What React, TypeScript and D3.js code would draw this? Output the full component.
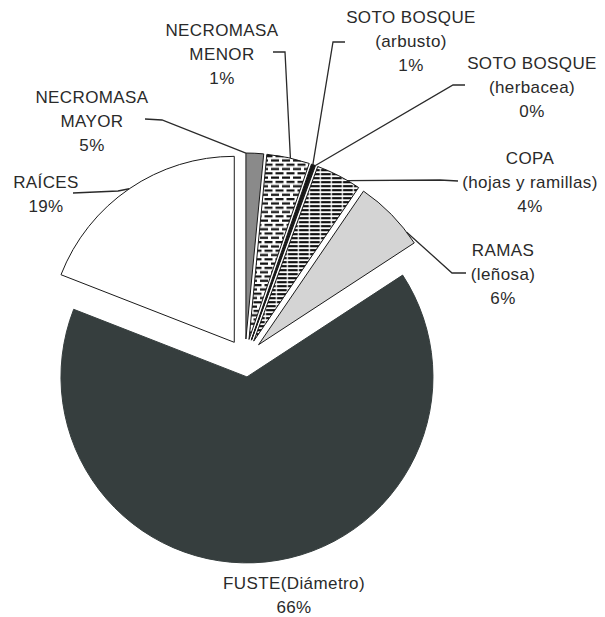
import React from "react";
import * as d3 from "d3";

// ---- data ----
const categories = [
  "NECROMASA MAYOR",
  "NECROMASA MENOR",
  "SOTO BOSQUE (arbusto)",
  "SOTO BOSQUE (herbacea)",
  "COPA (hojas y ramillas)",
  "RAMAS (leñosa)",
  "FUSTE(Diámetro)",
  "RAÍCES",
];
const values = [1.53, 3.72, 0.25, 0.1, 3.95, 6.25, 65.2, 19.1];
const pctLabels = ["5%", "1%", "1%", "0%", "4%", "6%", "66%", "19%"];
const labelLines = [
  ["NECROMASA", "MAYOR"],
  ["NECROMASA", "MENOR"],
  ["SOTO BOSQUE", "(arbusto)"],
  ["SOTO BOSQUE", "(herbacea)"],
  ["COPA", "(hojas y ramillas)"],
  ["RAMAS", "(leñosa)"],
  ["FUSTE(Diámetro)"],
  ["RAÍCES"],
];

// ---- layout / style ----
const W = 605;
const H = 617;
const CX = 245;
const CY = 358;
const R = 186;
const EXPLODE = 19;
const FONT = 17;
const LINE_H = 24;

const fills = [
  "#8a8a8a",
  "url(#dashPat)",
  "#151515",
  "#151515",
  "url(#hlinePat)",
  "#d4d4d4",
  "#363e3e",
  "#ffffff",
];

// label layout: x center, first baseline, leader points (near text), fraction along slice for end
const labelLayout = [
  { x: 92, y: 103, leader: [[145, 119], [162, 120]], frac: 0 },
  { x: 222, y: 36, leader: [[273, 52], [285, 52]], frac: 0.55 },
  { x: 411, y: 23, leader: [[345, 42], [333, 42]], frac: 0.5 },
  { x: 532, y: 69, leader: [[465, 85], [453, 85]], frac: 0.9 },
  { x: 530, y: 164, leader: [[458, 181], [440, 180]], frac: 0.72 },
  { x: 503, y: 256, leader: [[466, 273], [452, 273]], frac: 0.82 },
  { x: 294, y: 589, leader: null, frac: 0.5 },
  { x: 46, y: 188, leader: [[73, 193], [118, 191]], frac: 0.5 },
];

export default function App() {
  const pie = d3
    .pie<number>()
    .sort(null)
    .value((d) => d)
    .startAngle(0)
    .endAngle(2 * Math.PI);
  const arcs = pie(values);
  const arcGen = d3.arc<d3.PieArcDatum<number>>().innerRadius(0).outerRadius(R);

  const offset = (a: d3.PieArcDatum<number>) => {
    const mid = (a.startAngle + a.endAngle) / 2;
    return [Math.sin(mid) * EXPLODE, -Math.cos(mid) * EXPLODE];
  };

  const line = d3.line();

  return (
    <svg
      width={W}
      height={H}
      style={{ position: "absolute", left: 0, top: 0, background: "#fff" }}
      fontFamily="'Liberation Sans', Arial, sans-serif"
    >
      <defs>
        <pattern id="dashPat" patternUnits="userSpaceOnUse" width={11} height={8.6}>
          <rect width={11} height={8.6} fill="#fff" />
          <rect x={0} y={0.5} width={8} height={2.2} fill="#111" />
          <rect x={4.5} y={4.8} width={8} height={2.2} fill="#111" />
          <rect x={-6.5} y={4.8} width={8} height={2.2} fill="#111" />
        </pattern>
        <pattern id="hlinePat" patternUnits="userSpaceOnUse" width={11} height={4}>
          <rect width={11} height={4} fill="#fff" />
          <rect x={0} y={0} width={11} height={2.2} fill="#111" />
          <rect x={0} y={0} width={1.2} height={4} fill="#fff" />
        </pattern>
      </defs>
      <rect width={W} height={H} fill="#fff" />
      <g>
        {arcs.map((a, i) => {
          const [ox, oy] = offset(a);
          return (
            <path
              key={i}
              d={arcGen(a) || ""}
              transform={`translate(${CX + ox},${CY + oy})`}
              fill={fills[i]}
              stroke={i === 6 ? "#363e3e" : "#1a1a1a"}
              strokeWidth={1}
              strokeLinejoin="miter"
            />
          );
        })}
      </g>
      <g>
        {arcs.map((a, i) => {
          const lay = labelLayout[i];
          if (!lay.leader) return null;
          const [ox, oy] = offset(a);
          const ang = a.startAngle + (a.endAngle - a.startAngle) * lay.frac;
          const end: [number, number] = [
            CX + ox + R * Math.sin(ang),
            CY + oy - R * Math.cos(ang),
          ];
          const pts = [...(lay.leader as [number, number][]), end];
          return (
            <path
              key={i}
              d={line(pts) || ""}
              fill="none"
              stroke="#2a2a2a"
              strokeWidth={1.3}
            />
          );
        })}
      </g>
      <g fill="#2a2a2a" fontSize={FONT} textAnchor="middle" letterSpacing={0.4}>
        {categories.map((c, i) => {
          const lay = labelLayout[i];
          const lines = [...labelLines[i], pctLabels[i]];
          return (
            <text key={c} x={lay.x} y={lay.y}>
              {lines.map((t, j) => (
                <tspan key={j} x={lay.x} y={lay.y + j * LINE_H}>
                  {t}
                </tspan>
              ))}
            </text>
          );
        })}
      </g>
    </svg>
  );
}
